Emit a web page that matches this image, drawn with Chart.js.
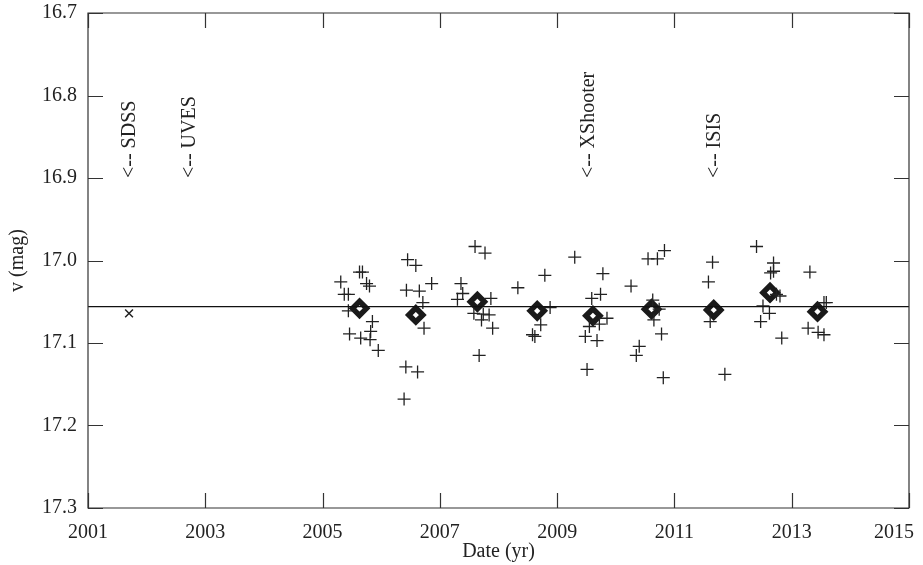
<!DOCTYPE html>
<html>
<head>
<meta charset="utf-8">
<script src="https://cdn.jsdelivr.net/npm/chart.js@4.4.1/dist/chart.umd.min.js"></script>
<style>
  html,body{margin:0;padding:0;background:#fff;}
  #wrap{width:923px;height:565px;}
</style>
</head>
<body>
<div id="wrap"><canvas id="c" width="923" height="565"></canvas></div>
<script>
// ---- data ----
const X_TICKS = [2001, 2003, 2005, 2007, 2009, 2011, 2013, 2015];
const Y_TICKS = [16.7, 16.8, 16.9, 17.0, 17.1, 17.2, 17.3];

const obsYears = [
  2005.31, 2005.37, 2005.44, 2005.63, 2005.68, 2005.75, 2005.80, 2005.44, 2005.85, 2005.46,
  2005.65, 2005.81, 2005.82, 2005.95, 2006.45, 2006.59, 2006.43, 2006.65, 2006.86, 2006.71,
  2006.73, 2006.42, 2006.62, 2006.39, 2007.60, 2007.77, 2007.36, 2007.30, 2007.39, 2007.87,
  2007.58, 2007.74, 2007.71, 2007.84, 2007.90, 2007.67, 2008.33, 2008.79, 2009.30, 2008.88,
  2008.72, 2008.58, 2008.62, 2009.78, 2009.59, 2009.74, 2009.85, 2009.55, 2009.72, 2009.48,
  2009.68, 2009.51, 2010.26, 2010.55, 2010.71, 2010.83, 2010.63, 2010.74, 2010.65, 2010.78,
  2010.40, 2010.35, 2010.81, 2011.65, 2011.58, 2011.61, 2011.86, 2012.40, 2012.69, 2012.64,
  2012.69, 2012.74, 2012.80, 2012.51, 2012.62, 2012.47, 2012.83, 2013.31, 2013.55, 2013.59,
  2013.28, 2013.45, 2013.55
];
const obsMags = [
  17.026, 17.041, 17.041, 17.014, 17.014, 17.028, 17.031, 17.061, 17.074, 17.089,
  17.094, 17.096, 17.086, 17.109, 16.999, 17.006, 17.036, 17.037, 17.028, 17.051,
  17.082, 17.129, 17.135, 17.168, 16.983, 16.991, 17.028, 17.047, 17.040, 17.046,
  17.064, 17.065, 17.072, 17.066, 17.082, 17.115, 17.033, 17.018, 16.996, 17.057,
  17.078, 17.090, 17.092, 17.016, 17.046, 17.041, 17.070, 17.080, 17.077, 17.092,
  17.097, 17.132, 17.031, 16.998, 16.998, 16.988, 17.048, 17.059, 17.072, 17.089,
  17.104, 17.115, 17.142, 17.002, 17.026, 17.074, 17.138, 16.983, 17.003, 17.015,
  17.013, 17.041, 17.043, 17.055, 17.064, 17.074, 17.094, 17.014, 17.051, 17.051,
  17.082, 17.087, 17.090
];

const meanYears = [2005.63, 2006.59, 2007.64, 2008.66, 2009.61, 2010.61, 2011.67, 2012.63, 2013.44];
const meanMags  = [17.058, 17.066, 17.050, 17.061, 17.067, 17.059, 17.060, 17.039, 17.062];

const sdssYear = [2001.70];
const sdssMag  = [17.064];

const overallMean = 17.056;
const lineYears = [2001, 2015];

const spectraLabels = ['<-- SDSS', '<-- UVES', '<-- XShooter', '<-- ISIS'];
const spectraYears  = [2001.71, 2002.74, 2009.54, 2011.69];
const spectraMag    = 16.9;

// ---- chart ----
const FONT = '"Liberation Serif", "DejaVu Serif", serif';
const INK = '#222';

const framePlugin = {
  id: 'frameTicks',
  afterDatasetsDraw(chart) {
    const {ctx, chartArea: a, scales: {x, y}} = chart;
    ctx.save();
    ctx.strokeStyle = '#333';
    ctx.lineWidth = 1.2;
    ctx.beginPath();
    ctx.rect(a.left, a.top, a.right - a.left, a.bottom - a.top);
    ctx.stroke();
    const L = 15;
    ctx.beginPath();
    X_TICKS.forEach(v => {
      const px = Math.round(x.getPixelForValue(v)) + 0.5;
      ctx.moveTo(px, a.bottom); ctx.lineTo(px, a.bottom - L);
      ctx.moveTo(px, a.top); ctx.lineTo(px, a.top + L);
    });
    Y_TICKS.forEach(v => {
      const py = Math.round(y.getPixelForValue(v)) + 0.5;
      ctx.moveTo(a.left, py); ctx.lineTo(a.left + L, py);
      ctx.moveTo(a.right, py); ctx.lineTo(a.right - L, py);
    });
    ctx.stroke();

    // spectra labels
    ctx.fillStyle = INK;
    ctx.font = '20px ' + FONT;
    ctx.textAlign = 'left';
    ctx.textBaseline = 'middle';
    spectraLabels.forEach((t, i) => {
      const px = x.getPixelForValue(spectraYears[i]);
      const py = y.getPixelForValue(spectraMag);
      ctx.save();
      ctx.translate(px, py);
      ctx.rotate(-Math.PI / 2);
      ctx.fillText(t, 0, 0);
      ctx.restore();
    });
    ctx.restore();
  }
};

new Chart(document.getElementById('c'), {
  type: 'scatter',
  data: {
    datasets: [
      {
        type: 'line',
        data: lineYears.map(v => ({x: v, y: overallMean})),
        borderColor: '#111',
        borderWidth: 1.2,
        pointRadius: 0,
        fill: false
      },
      {
        data: obsYears.map((v, i) => ({x: v, y: obsMags[i]})),
        pointStyle: 'cross',
        pointRadius: 6.5,
        borderColor: INK,
        borderWidth: 1.3,
        backgroundColor: INK
      },
      {
        data: meanYears.map((v, i) => ({x: v, y: meanMags[i]})),
        pointStyle: 'rectRot',
        pointRadius: 7,
        borderColor: '#1a1a1a',
        borderWidth: 5.5,
        backgroundColor: '#fff'
      },
      {
        data: sdssYear.map((v, i) => ({x: v, y: sdssMag[i]})),
        pointStyle: 'crossRot',
        pointRadius: 5.5,
        borderColor: INK,
        borderWidth: 1.5
      }
    ]
  },
  options: {
    responsive: false,
    animation: false,
    devicePixelRatio: 1,
    layout: {padding: {left: 0, top: 13, right: 14, bottom: 0}},
    plugins: {legend: {display: false}, tooltip: {enabled: false}},
    scales: {
      x: {
        type: 'linear',
        min: 2001, max: 2015,
        afterFit(s) { s.height = 57; s.paddingLeft = 0; s.paddingRight = 0; },
        afterBuildTicks(s) { s.ticks = X_TICKS.map(v => ({value: v})); },
        grid: {display: false},
        border: {display: false},
        ticks: {
          color: INK, padding: 5, maxRotation: 0, autoSkip: false,
          font: {family: FONT, size: 20},
          callback: v => (v === X_TICKS[X_TICKS.length - 1]) ? String(v) + '\u00A0'.repeat(6) : String(v)
        },
        title: {display: true, text: 'Date (yr)', color: INK, padding: {top: 0, bottom: 1},
                font: {family: FONT, size: 20}}
      },
      y: {
        type: 'linear',
        reverse: true,
        min: 16.7, max: 17.3,
        afterFit(s) { s.width = 88; s.paddingTop = 0; s.paddingBottom = 0; },
        afterBuildTicks(s) { s.ticks = Y_TICKS.map(v => ({value: v})); },
        grid: {display: false},
        border: {display: false},
        ticks: {
          color: INK, padding: 3, autoSkip: false,
          font: {family: FONT, size: 20},
          callback: v => Number(v).toFixed(1)
        },
        title: {display: true, text: 'v (mag)', color: INK, padding: {top: 6, bottom: 0},
                font: {family: FONT, size: 20}}
      }
    }
  },
  plugins: [framePlugin]
});
</script>
</body>
</html>
